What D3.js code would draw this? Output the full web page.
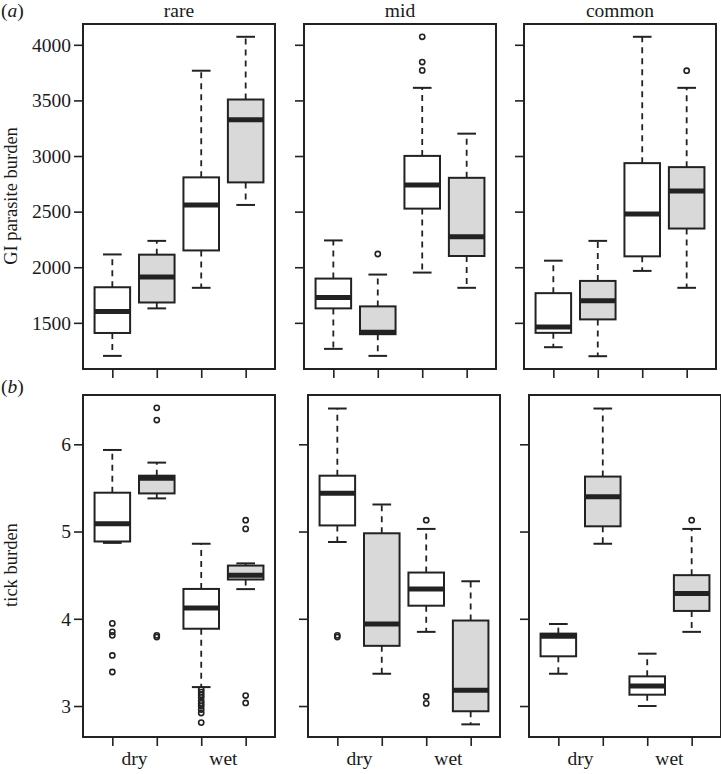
<!DOCTYPE html>
<html>
<head>
<meta charset="utf-8">
<script src="https://cdn.jsdelivr.net/npm/d3@7"></script>
<style>
  body { margin: 0; background: #fff; }
  svg { display: block; }
  text { font-family: "Liberation Serif", "DejaVu Serif", serif; fill: #1a1a1a; }
</style>
</head>
<body>
<svg id="chart" width="721" height="774"></svg>
<script>
// ---------- data ----------
const columns = ["rare", "mid", "common"];
const seasons = ["dry", "dry", "wet", "wet"];
const treatment = ["control", "treated", "control", "treated"];
const seasonLabels = ["dry", "wet"];
const giTicks = [1500, 2000, 2500, 3000, 3500, 4000];
const tickTicks = [3, 4, 5, 6];

// five-number summaries: [lower whisker, Q1, median, Q3, upper whisker]
const giRare = [
  [1203, 1409, 1603, 1820, 2115],
  [1630, 1683, 1913, 2113, 2237],
  [1815, 2151, 2560, 2808, 3767],
  [2560, 2763, 3326, 3508, 4072]
];
const giRareOut = [[], [], [], []];
const giMid = [
  [1266, 1630, 1728, 1898, 2241],
  [1203, 1398, 1415, 1648, 1934],
  [1952, 2527, 2739, 3001, 3613],
  [1815, 2101, 2274, 2804, 3201]
];
const giMidOut = [[], [2119], [3770, 3845, 4072], []];
const giCommon = [
  [1281, 1410, 1463, 1767, 2059],
  [1200, 1531, 1698, 1877, 2237],
  [1967, 2098, 2479, 2936, 4072],
  [1815, 2348, 2685, 2900, 3613]
];
const giCommonOut = [[], [], [], [3767]];

const tickRare = [
  [4.87, 4.886, 5.09, 5.445, 5.935],
  [5.38, 5.437, 5.61, 5.64, 5.79],
  [3.217, 3.886, 4.125, 4.342, 4.86],
  [4.34, 4.45, 4.50, 4.61, 4.635]
];
const tickRareOut = [
  [3.947, 3.85, 3.81, 3.58, 3.39],
  [6.418, 6.278, 3.81, 3.79],
  [3.19, 3.16, 3.13, 3.10, 3.06, 3.03, 3.00, 2.96, 2.92, 2.81],
  [5.13, 5.03, 3.12, 3.035]
];
const tickMid = [
  [4.88, 5.07, 5.44, 5.64, 6.41],
  [3.37, 3.69, 3.94, 4.98, 5.31],
  [3.85, 4.15, 4.34, 4.53, 5.03],
  [2.79, 2.94, 3.18, 3.98, 4.43]
];
const tickMidOut = [[3.81, 3.79], [], [5.13, 3.11, 3.03], []];
const tickCommon = [
  [3.37, 3.57, 3.80, 3.83, 3.94],
  [4.86, 5.06, 5.40, 5.63, 6.41],
  [3.00, 3.13, 3.23, 3.34, 3.60],
  [3.85, 4.09, 4.29, 4.50, 5.03]
];
const tickCommonOut = [[], [], [], [5.13]];

// ---------- layout ----------
const svg = d3.select("#chart");
const ink = "#222";
const fs = 19.5;
const fillFor = t => t === "treated" ? "#d9d9d9" : "#ffffff";

const rows = [
  { stats: [giRare, giMid, giCommon], outs: [giRareOut, giMidOut, giCommonOut],
    domain: [1085, 4187], ticks: giTicks, top: 24, bottom: 369,
    lefts: [83, 304, 524], showX: false },
  { stats: [tickRare, tickMid, tickCommon], outs: [tickRareOut, tickMidOut, tickCommonOut],
    domain: [2.645, 6.565], ticks: tickTicks, top: 395, bottom: 737,
    lefts: [83, 308, 529], showX: true }
];
const panelW = 192;

rows.forEach((row, ri) => {
  const y = d3.scaleLinear().domain(row.domain).range([row.bottom, row.top]);
  row.lefts.forEach((left, ci) => {
    const x = d3.scaleLinear().domain([0.34, 4.66]).range([left, left + panelW]);
    const g = svg.append("g");
    const stats = row.stats[ci];
    const outs = row.outs[ci];
    const unit = x(2) - x(1);
    const bw = unit * 0.8;
    const sw = unit * 0.42;

    // y axis
    const yAxis = d3.axisLeft(y).tickValues(row.ticks).tickSize(9).tickPadding(3)
      .tickFormat(ci === 0 ? d3.format("d") : () => "");
    const ya = g.append("g").attr("transform", `translate(${left},0)`).call(yAxis);
    ya.select(".domain").remove();
    ya.selectAll(".tick line").attr("stroke", ink).attr("stroke-width", 1.6);
    ya.selectAll(".tick text").attr("font-size", fs).attr("fill", "#1a1a1a")
      .attr("font-family", "Liberation Serif, serif");

    // x axis
    const xAxis = d3.axisBottom(x).tickValues([1, 2, 3, 4]).tickSize(9).tickFormat(() => "");
    const xa = g.append("g").attr("transform", `translate(0,${row.bottom})`).call(xAxis);
    xa.select(".domain").remove();
    xa.selectAll(".tick line").attr("stroke", ink).attr("stroke-width", 1.6);

    if (row.showX) {
      seasonLabels.forEach((lab, k) => {
        g.append("text").attr("x", x(1.5 + 2 * k)).attr("y", 765)
          .attr("text-anchor", "middle").attr("font-size", fs).text(lab);
      });
    }

    // boxes
    stats.forEach((s, i) => {
      const cx = x(i + 1);
      const [lo, q1, med, q3, hi] = s;
      g.append("line").attr("x1", cx).attr("x2", cx).attr("y1", y(q3)).attr("y2", y(hi))
        .attr("stroke", ink).attr("stroke-width", 1.8).attr("stroke-dasharray", "6,5");
      g.append("line").attr("x1", cx).attr("x2", cx).attr("y1", y(q1)).attr("y2", y(lo))
        .attr("stroke", ink).attr("stroke-width", 1.8).attr("stroke-dasharray", "6,5");
      [lo, hi].forEach(v => {
        g.append("line").attr("x1", cx - sw / 2).attr("x2", cx + sw / 2)
          .attr("y1", y(v)).attr("y2", y(v)).attr("stroke", ink).attr("stroke-width", 2);
      });
      g.append("rect").attr("x", cx - bw / 2).attr("width", bw)
        .attr("y", y(q3)).attr("height", Math.max(0, y(q1) - y(q3)))
        .attr("fill", fillFor(treatment[i])).attr("stroke", ink).attr("stroke-width", 2);
      g.append("line").attr("x1", cx - bw / 2).attr("x2", cx + bw / 2)
        .attr("y1", y(med)).attr("y2", y(med)).attr("stroke", ink).attr("stroke-width", 5);
      outs[i].forEach(v => {
        g.append("circle").attr("cx", cx).attr("cy", y(v)).attr("r", 2.6)
          .attr("fill", "none").attr("stroke", ink).attr("stroke-width", 1.6);
      });
    });

    // frame
    g.append("rect").attr("x", left).attr("y", row.top)
      .attr("width", panelW).attr("height", row.bottom - row.top)
      .attr("fill", "none").attr("stroke", ink).attr("stroke-width", 2);

    if (ri === 0) {
      g.append("text").attr("x", left + panelW / 2).attr("y", 17)
        .attr("text-anchor", "middle").attr("font-size", fs).text(columns[ci]);
    }
  });
});

// panel letters
[["a", 17], ["b", 393]].forEach(([l, yy]) => {
  const t = svg.append("text").attr("x", 1).attr("y", yy).attr("font-size", fs);
  t.append("tspan").text("(");
  t.append("tspan").attr("font-style", "italic").text(l);
  t.append("tspan").text(")");
});

// y titles
svg.append("text").attr("transform", "translate(17,196) rotate(-90)")
  .attr("text-anchor", "middle").attr("font-size", 18.5).text("GI parasite burden");
svg.append("text").attr("transform", "translate(17,565) rotate(-90)")
  .attr("text-anchor", "middle").attr("font-size", 18.5).text("tick burden");
</script>
</body>
</html>
